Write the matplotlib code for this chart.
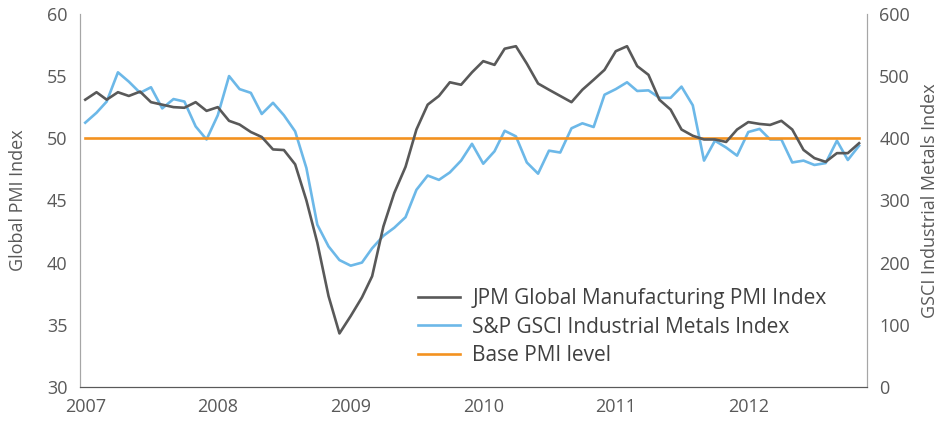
import pandas as pd
import matplotlib
matplotlib.use("Agg")
import matplotlib.pyplot as plt
import matplotlib.dates as mdates

# monthly readings, Jan 2007 - Nov 2012
pmi = [53.1, 53.7, 53.1, 53.7, 53.4, 53.75, 52.9, 52.7, 52.5, 52.45, 52.9, 52.2,
       52.5, 51.4, 51.1, 50.5, 50.1, 49.1, 49.05, 47.9, 45.0, 41.6, 37.3, 34.3,
       35.7, 37.2, 38.9, 42.9, 45.6, 47.7, 50.7, 52.7, 53.4, 54.5, 54.3, 55.3,
       56.2, 55.9, 57.2, 57.4, 56.0, 54.4, 53.9, 53.4, 52.9, 53.9, 54.7, 55.5,
       57.0, 57.4, 55.8, 55.1, 53.1, 52.3, 50.7, 50.2, 49.9, 49.9, 49.7, 50.7,
       51.3, 51.15, 51.07, 51.4, 50.7, 49.06, 48.4, 48.1, 48.8, 48.8, 49.6]

gsci = [425, 441, 459, 506, 491, 473, 482, 448, 463, 459, 419, 398,
        437, 500, 479, 473, 439, 457, 437, 411, 352, 261, 226, 204,
        195, 200, 223, 243, 256, 273, 317, 340, 333, 345, 364, 391,
        359, 379, 412, 403, 361, 343, 380, 377, 416, 424, 418, 470,
        479, 490, 476, 477, 465, 465, 483, 453, 364, 396, 385, 372,
        410, 415, 398, 398, 361, 364, 357, 360, 396, 365, 388]

base_level = 50
months = pd.date_range("2007-01-01", periods=len(pmi), freq="MS")
year_ticks = pd.date_range("2007-01-01", "2012-01-01", freq="YS")

c_pmi = "#595959"
c_gsci = "#6cb8e8"
c_base = "#f39220"
c_text = "#595959"

plt.rcParams["font.family"] = ["Open Sans", "DejaVu Sans"]

fig = plt.figure(figsize=(9.39, 4.21), dpi=100)
ax = fig.add_axes([0.085, 0.081, 0.838, 0.886])
ax2 = ax.twinx()

l1, = ax.plot(months, pmi, color=c_pmi, lw=1.9, label="JPM Global Manufacturing PMI Index", zorder=3)
l2, = ax2.plot(months, gsci, color=c_gsci, lw=1.9, label="S&P GSCI Industrial Metals Index", zorder=2)
l3, = ax.plot(months, [base_level] * len(months), color=c_base, lw=1.9, label="Base PMI level", zorder=2)

ax.set_zorder(ax2.get_zorder() + 1)
ax.patch.set_visible(False)

ax.set_ylim(30, 60)
ax2.set_ylim(0, 600)
ax.set_yticks(range(30, 61, 5))
ax2.set_yticks(range(0, 601, 100))
ax.set_xlim(pd.Timestamp("2006-12-17"), pd.Timestamp("2012-11-22"))
ax.set_xticks(year_ticks)
ax.xaxis.set_major_formatter(mdates.DateFormatter("%Y"))

for a in (ax, ax2):
    a.spines["top"].set_visible(False)
    a.spines["left"].set_color("#a6a6a6")
    a.spines["right"].set_color("#a6a6a6")
    a.spines["bottom"].set_color("#595959")
    a.tick_params(length=0, labelsize=13, colors=c_text)
ax.tick_params(axis="y", pad=9)
ax.tick_params(axis="x", pad=8)
ax2.tick_params(axis="y", pad=9)

ax.set_ylabel("Global PMI Index", fontsize=13, color=c_text, labelpad=14)
ax2.set_ylabel("GSCI Industrial Metals Index", fontsize=13, color=c_text, labelpad=8)

ax.legend(handles=[l1, l2, l3], loc="lower right", bbox_to_anchor=(0.973, 0.006),
          frameon=False, fontsize=15, labelcolor="#404040", handlelength=2.0,
          handletextpad=0.6, labelspacing=0.35)

fig.savefig("out.png", dpi=100)
